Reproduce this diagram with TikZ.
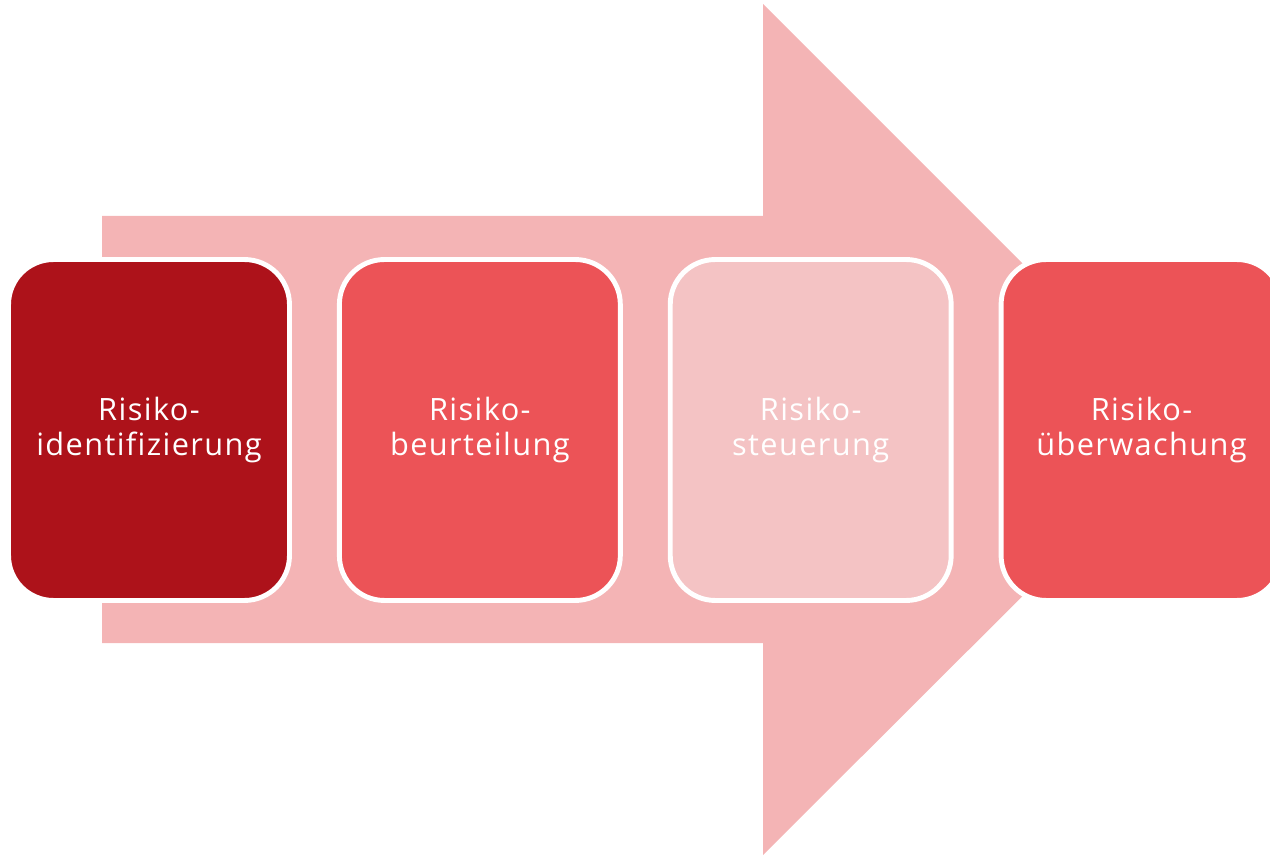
\documentclass[tikz,border=0pt]{standalone}
\usepackage{fontspec}
\setmainfont[Ligatures=CommonOff,LetterSpace=4.5]{Open Sans}
\usepackage{xcolor}
\usepackage{tikz}
\usetikzlibrary{positioning}
\definecolor{rkdark}{HTML}{AD121A}
\definecolor{rkmid}{HTML}{EC5357}
\definecolor{rklight}{HTML}{F4C3C4}
\definecolor{rkarrow}{HTML}{F4B4B5}
\tikzset{
  rk box/.style={
    rectangle,
    rounded corners=0.9cm,
    minimum width=5.62cm,
    minimum height=6.82cm,
    line width=2.8pt,
    draw=white,
    text=white,
    align=center,
    font=\fontsize{17.5}{20}\selectfont,
    inner sep=3pt,
  },
  rk arrow/.style={fill=rkarrow, draw=none},
}

\begin{document}
\begin{tikzpicture}[x=0.02cm, y=-0.02cm, node distance=0.9cm]
  \useasboundingbox (0,0) rectangle (1270,857);
  \clip (0,0) rectangle (1270,857);

  % big arrow behind the steps
  \fill[rk arrow] (102,216) -- (763,216) -- (763,4) -- (1189,430)
    -- (763,855) -- (763,643) -- (102,643) -- cycle;

  \node[rk box, fill=rkdark] (ident) at (149,430) {Risiko-\\identifizierung};
  \node[rk box, fill=rkmid, right=of ident] (beurt) {Risiko-\\beurteilung};
  \node[rk box, fill=rklight, right=of beurt] (steuer) {Risiko-\\steuerung};
  \node[rk box, fill=rkmid, right=of steuer] (ueberw) {Risiko-\\überwachung};
\end{tikzpicture}
\end{document}
